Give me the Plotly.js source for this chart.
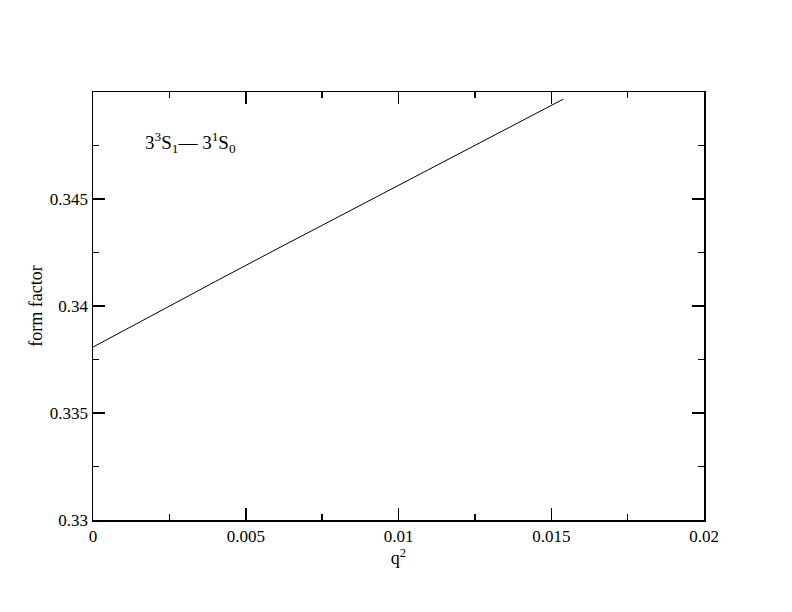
<!DOCTYPE html>
<html>
<head>
<meta charset="utf-8">
<script src="https://cdn.plot.ly/plotly-3.0.1.min.js"></script>
<style>body{margin:0;background:#fff}</style>
</head>
<body>
<div id="myPlot" style="width:792px;height:612px"></div>
<script>
const myPlot = document.getElementById('myPlot');

// q^2 values and form factor
const qSquared = [0, 0.002, 0.004, 0.006, 0.008, 0.010, 0.012, 0.014, 0.0154];
const formFactor = [0.33808, 0.33962, 0.34114, 0.34265, 0.34415, 0.34565, 0.34714, 0.34862, 0.34967];

const xTicks = [0, 0.005, 0.01, 0.015, 0.02];
const xTickText = ['0', '0.005', '0.01', '0.015', '0.02'];
const yTicks = [0.33, 0.335, 0.34, 0.345];
const yTickText = ['0.33', '0.335', '0.34', '0.345'];

const serif = '"Liberation Serif", "Times New Roman", serif';

const trace = {
  x: qSquared,
  y: formFactor,
  mode: 'lines',
  type: 'scatter',
  line: {color: '#000', width: 1},
  hoverinfo: 'skip'
};

const axisBase = {
  showgrid: false,
  zeroline: false,
  showline: true,
  linecolor: '#000',
  linewidth: 1.5,
  mirror: 'ticks',
  ticks: 'inside',
  ticklen: 12,
  tickwidth: 1.5,
  tickcolor: '#000',
  tickfont: {family: serif, size: 17, color: '#000'},
  tickmode: 'array'
};

const layout = {
  width: 792,
  height: 612,
  margin: {l: 93, r: 88, t: 92, b: 92},
  paper_bgcolor: '#fff',
  plot_bgcolor: '#fff',
  showlegend: false,
  xaxis: Object.assign({}, axisBase, {
    range: [0, 0.02],
    tickvals: xTicks,
    ticktext: xTickText,
    minor: {ticks: 'inside', ticklen: 6, tickwidth: 1.5, tickcolor: '#000', tickvals: [0.0025, 0.0075, 0.0125, 0.0175]},
    title: {text: 'q<sup>2</sup>', font: {family: serif, size: 18, color: '#000'}, standoff: 6}
  }),
  yaxis: Object.assign({}, axisBase, {
    range: [0.33, 0.35],
    tickvals: yTicks,
    ticktext: yTickText,
    minor: {ticks: 'inside', ticklen: 6, tickwidth: 1.5, tickcolor: '#000', tickvals: [0.3325, 0.3375, 0.3425, 0.3475]},
    title: {text: 'form factor', font: {family: serif, size: 18, color: '#000'}, standoff: 2}
  }),
  annotations: [{
    x: 0.00165, y: 0.34765, xref: 'x', yref: 'y',
    xanchor: 'left', yanchor: 'middle',
    showarrow: false,
    text: '3<sup>3</sup>S<sub>1</sub>\u2014 3<sup>1</sup>S<sub>0</sub>',
    font: {family: serif, size: 19, color: '#000'}
  }]
};

Plotly.newPlot(myPlot, [trace], layout, {staticPlot: true});
</script>
</body>
</html>
